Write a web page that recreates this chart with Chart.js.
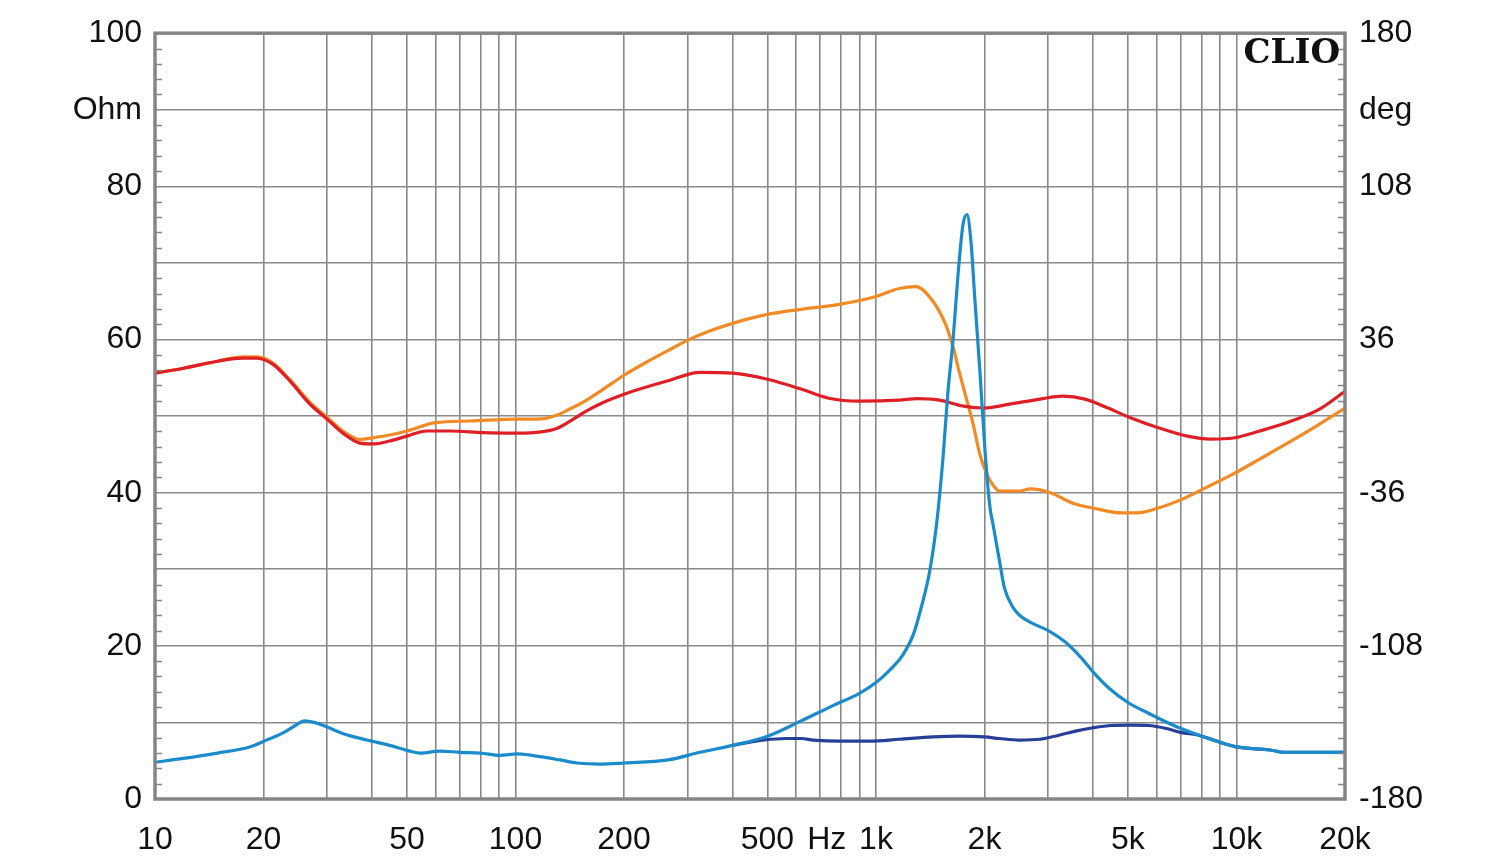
<!DOCTYPE html>
<html>
<head>
<meta charset="utf-8">
<script src="https://cdn.jsdelivr.net/npm/chart.js@4"></script>
<style>
  html, body { margin: 0; padding: 0; background: #fff; }
</style>
</head>
<body>
<canvas id="chart-clio" width="1500" height="864"></canvas>
<script>
// impedance (Ohm, left axis)
var freqZ = [10, 12, 14.9, 18.3, 20.4, 22.6, 24.5, 26, 27.6, 30, 33, 38.7, 44.8, 51, 54.4, 61.7, 70, 80, 90.5, 101, 111, 133, 148, 171, 200, 265, 325, 400, 500, 620, 760, 900, 1000, 1090, 1190, 1270, 1340, 1410, 1476, 1534, 1584, 1635, 1689, 1743, 1788, 1834, 1882, 1944, 2007, 2072, 2111, 2208, 2270, 2400, 2500, 2700, 3030, 3350, 3700, 4000, 4400, 5000, 5700, 6700, 7900, 9000, 10000, 12400, 13500, 20000];
var ohmLight = [4.8, 5.3, 6.0, 6.8, 7.7, 8.6, 9.6, 10.2, 10.0, 9.4, 8.6, 7.7, 7.0, 6.25, 6.0, 6.25, 6.1, 6.0, 5.7, 5.9, 5.7, 5.1, 4.7, 4.55, 4.7, 5.1, 6.1, 7.0, 8.2, 10.2, 12.2, 13.8, 15.2, 16.8, 18.9, 21.5, 25.3, 29.8, 36.3, 44.5, 53.3, 59.8, 68.5, 75, 76.3, 72.8, 65, 55.5, 45.4, 38, 35.9, 30.7, 27.6, 25, 24, 23, 21.9, 20.5, 18.5, 16.6, 14.6, 12.6, 11.2, 9.6, 8.3, 7.4, 6.8, 6.4, 6.1, 6.1];

var freqZ2 = [400, 490, 565, 620, 670, 790, 960, 1160, 1440, 1700, 2000, 2200, 2500, 2850, 3200, 3600, 4000, 4500, 5100, 5700, 6400, 7000, 7900, 9000, 10000, 12400, 13500, 20000];
var ohmDark = [7.0, 7.7, 7.9, 7.9, 7.7, 7.55, 7.55, 7.8, 8.1, 8.2, 8.1, 7.9, 7.7, 7.8, 8.3, 8.9, 9.3, 9.6, 9.65, 9.6, 9.2, 8.7, 8.3, 7.4, 6.8, 6.4, 6.1, 6.1];

// phase (deg, right axis)
var freqRed = [10, 12, 14.9, 17.5, 19.2, 21.2, 23.7, 26.9, 30, 33.2, 37, 40.2, 44.8, 50, 56.8, 65.8, 81.4, 101, 118, 130, 141, 155, 175, 200, 265, 325, 400, 500, 620, 740, 900, 1160, 1300, 1500, 1750, 2000, 2350, 2850, 3300, 3800, 4400, 5100, 6100, 7300, 8500, 9800, 11600, 14200, 17000, 20000];
var phaseRed = [20.2, 22.5, 25.8, 27.3, 27.2, 24.4, 16.4, 5.6, -1.4, -8, -12.7, -13.1, -11.7, -9.4, -7, -7, -7.8, -8, -7.4, -5.8, -2.6, 1.8, 6.4, 10.3, 16.6, 20.6, 20.2, 17.3, 12.7, 8.4, 7, 7.5, 8.2, 7.5, 4.7, 3.8, 5.6, 8, 9.4, 8, 3.8, -0.9, -5.6, -9.4, -10.8, -10.3, -7, -2.3, 3.3, 11.7];

var freqOrange = [10, 12, 14.9, 17.5, 19.2, 21.2, 23.7, 26.9, 30, 33.2, 37, 40.2, 44.8, 50, 60, 75, 101, 118, 130, 141, 155, 175, 200, 230, 265, 300, 350, 400, 500, 620, 790, 1000, 1160, 1290, 1440, 1560, 1640, 1700, 1780, 1860, 1940, 2030, 2100, 2200, 2500, 2680, 3060, 3500, 4100, 4800, 5300, 6100, 7100, 8200, 9800, 11600, 14200, 17000, 20000];
var phaseOrange = [20.2, 22.5, 25.8, 27.8, 27.8, 25, 17, 6.5, -0.5, -7, -11, -10.2, -8.9, -7, -3.1, -2.3, -1.4, -1.3, 0.4, 3.2, 6.8, 12.6, 19.2, 25.2, 30.8, 35.6, 40.3, 43.6, 47.8, 50.2, 52.5, 56.25, 60, 60.9, 53.9, 43.1, 31.9, 21.1, 8.4, -3.75, -17.8, -27.2, -31.9, -35.2, -35.2, -34.2, -36.1, -40.8, -43.6, -45.5, -45.5, -43.1, -38.9, -33.75, -27.2, -20.2, -11.7, -3.75, 3.75];

// axis ticks
var xGridVals = [10, 20, 30, 40, 50, 60, 70, 80, 90, 100, 200, 300, 400, 500, 600, 700, 730, 800, 900, 1000, 2000, 3000, 4000, 5000, 6000, 7000, 8000, 9000, 10000, 20000];
var xLabels = { 10: '10', 20: '20', 50: '50', 100: '100', 200: '200', 500: '500', 730: 'Hz', 1000: '1k', 2000: '2k', 5000: '5k', 10000: '10k', 20000: '20k' };
var yLeftLabels = { 0: '0', 20: '20', 40: '40', 60: '60', 80: '80', 90: 'Ohm', 100: '100' };
var yRightLabels = ['-180', '-108', '-36', '36', '108', '180'];

function pts(xs, ys) {
	var out = [];
	for (var i = 0; i < xs.length; i++) out.push({ x: xs[i], y: ys[i] });
	return out;
}

var gridGray = '#8a8a8a';
var frameGray = '#858585';
var tickFont = { size: 32, family: "'Liberation Sans', Arial, sans-serif" };

// frame, inner minor ticks and CLIO text
var framePlugin = {
	id: 'frame',
	afterDraw: function(chart) {
		var c = chart.ctx, a = chart.chartArea, y = chart.scales.y;
		c.save();
		c.strokeStyle = frameGray;
		c.lineWidth = 1.5;
		for (var v = 2; v < 100; v += 2) {
			if (v % 10 == 0) continue;
			var py = Math.round(y.getPixelForValue(v)) + 0.5;
			c.beginPath();
			c.moveTo(a.left, py); c.lineTo(a.left + 7, py);
			c.moveTo(a.right - 7, py); c.lineTo(a.right, py);
			c.stroke();
		}
		c.lineWidth = 3.5;
		c.strokeRect(a.left, a.top, a.right - a.left, a.bottom - a.top);
		c.fillStyle = '#111';
		c.font = "bold 34px 'DejaVu Serif', serif";
		c.textAlign = 'right';
		c.textBaseline = 'alphabetic';
		c.fillText('CLIO', a.right - 5, a.top + 30);
		c.restore();
	}
};

var ctx = document.getElementById('chart-clio').getContext('2d');
new Chart(ctx, {
	type: 'line',
	data: {
		datasets: [{
			data: pts(freqZ, ohmLight),
			borderColor: '#1a8bcb',
			yAxisID: 'y'
		}, {
			data: pts(freqZ2, ohmDark),
			borderColor: '#283f97',
			yAxisID: 'y'
		}, {
			data: pts(freqRed, phaseRed),
			borderColor: '#df1f26',
			yAxisID: 'y2'
		}, {
			data: pts(freqOrange, phaseOrange),
			borderColor: '#f28a25',
			yAxisID: 'y2'
		}]
	},
	options: {
		responsive: false,
		animation: false,
		events: [],
		layout: { padding: { top: 31, left: 0, right: 0, bottom: 0 } },
		elements: {
			point: { radius: 0 },
			line: { borderWidth: 3.2, cubicInterpolationMode: 'monotone', fill: false }
		},
		plugins: {
			legend: { display: false },
			tooltip: { enabled: false }
		},
		scales: {
			x: {
				type: 'logarithmic',
				min: 10,
				max: 20000,
				afterBuildTicks: function(s) {
					s.ticks = xGridVals.map(function(v) { return { value: v }; });
				},
				afterFit: function(s) { s.height = 65; },
				border: { display: false },
				grid: {
					drawTicks: false,
					lineWidth: 1.6,
					color: function(c) { return c.tick && c.tick.value == 730 ? 'rgba(0,0,0,0)' : gridGray; }
				},
				ticks: {
					autoSkip: false,
					maxRotation: 0,
					minRotation: 0,
					padding: 22,
					color: '#111',
					font: tickFont,
					callback: function(v) { return xLabels[v] || ''; }
				}
			},
			y: {
				position: 'left',
				min: 0,
				max: 100,
				afterBuildTicks: function(s) {
					var t = [];
					for (var v = 0; v <= 100; v += 2) t.push({ value: v });
					s.ticks = t;
				},
				afterFit: function(s) { s.width = 155; },
				border: { display: false },
				grid: {
					drawTicks: false,
					lineWidth: 1.6,
					color: function(c) { return c.tick && c.tick.value % 10 == 0 ? gridGray : 'rgba(0,0,0,0)'; }
				},
				ticks: {
					autoSkip: false,
					padding: 13,
					color: '#111',
					font: tickFont,
					callback: function(v) { return yLeftLabels[v] || ''; }
				}
			},
			y2: {
				position: 'right',
				min: -180,
				max: 180,
				afterBuildTicks: function(s) {
					var t = [];
					for (var i = 0; i <= 50; i++) t.push({ value: -180 + i * 7.2 });
					s.ticks = t;
				},
				afterFit: function(s) { s.width = 155; },
				border: { display: false },
				grid: { display: false, drawTicks: false },
				ticks: {
					autoSkip: false,
					padding: 14,
					color: '#111',
					font: tickFont,
					callback: function(v, i) {
						if (i == 45) return 'deg';
						if (i % 10 == 0) return yRightLabels[i / 10];
						return '';
					}
				}
			}
		}
	},
	plugins: [framePlugin]
});
</script>
</body>
</html>
